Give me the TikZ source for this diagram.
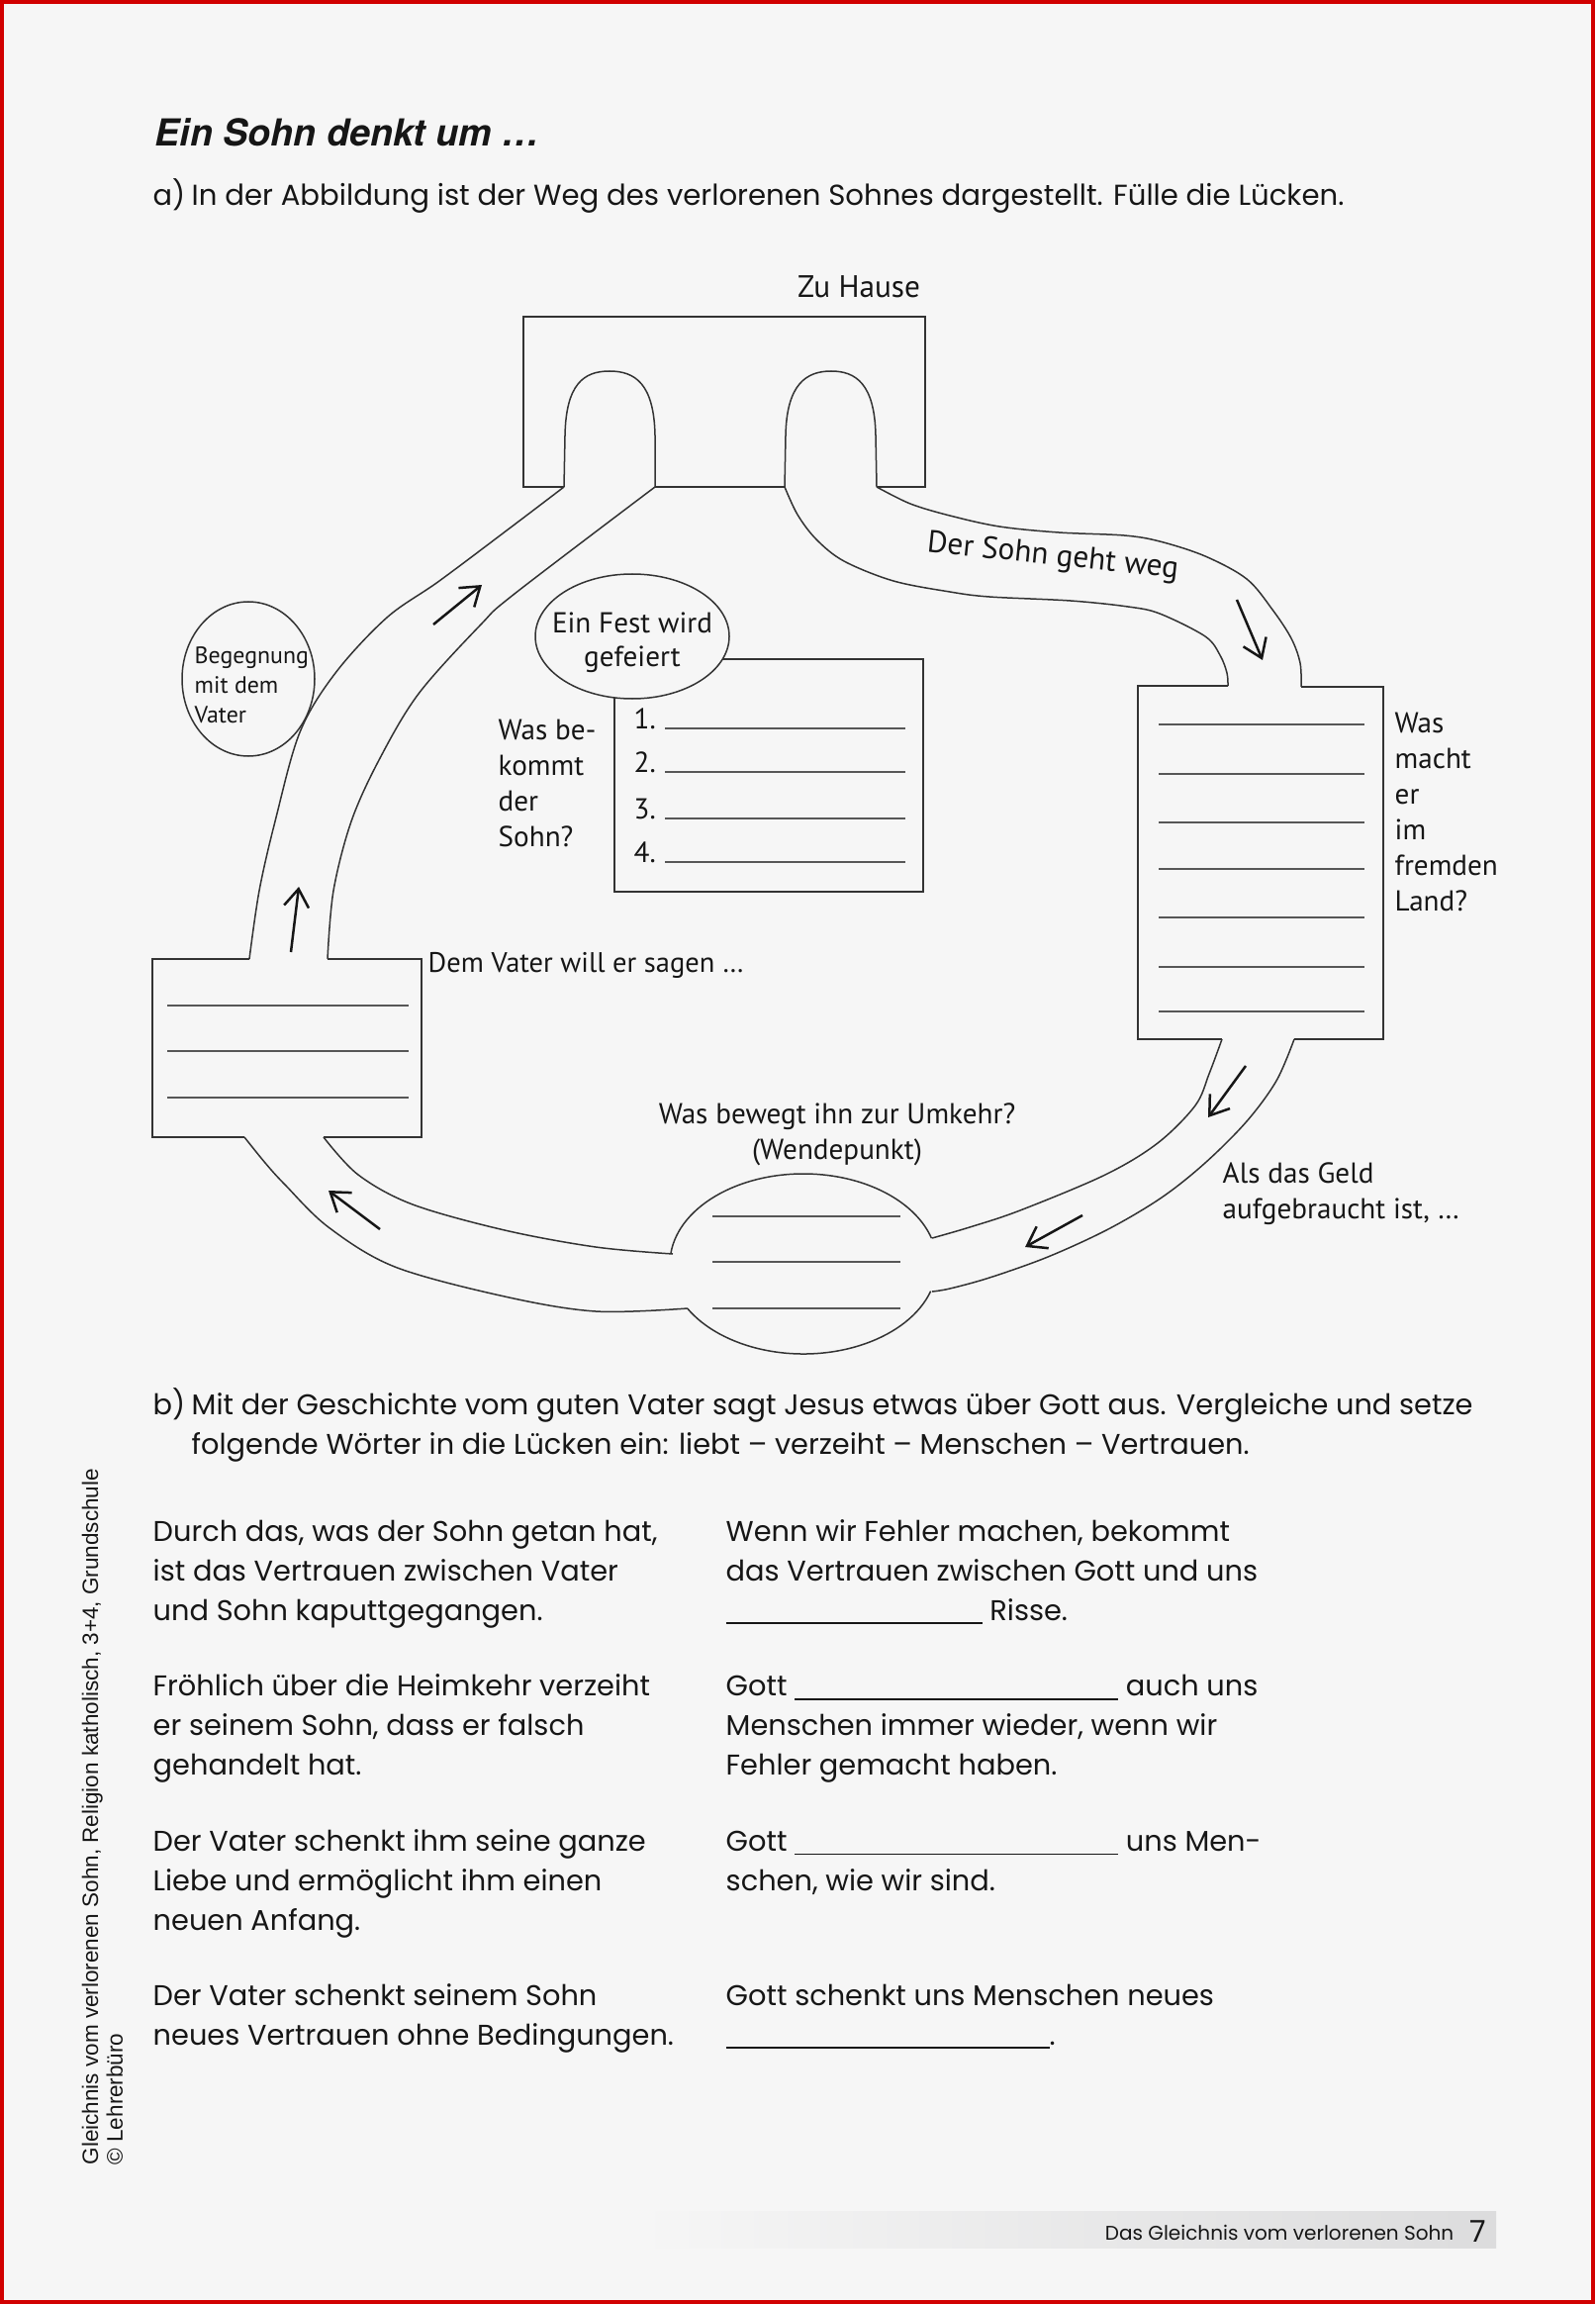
\documentclass[tikz,border=0pt]{standalone}
\usepackage{fontspec}
\setmainfont{Poppins}
\newfontfamily\titlefont{TeX Gyre Heros}
\newfontfamily\mapfont{PT Sans}
\newfontfamily\notefont{Liberation Sans}
\usetikzlibrary{arrows.meta,calc,positioning,shapes.geometric}
\definecolor{ink}{HTML}{161616}
\definecolor{wayink}{HTML}{333333}
\definecolor{blankink}{HTML}{575757}
\definecolor{paper}{HTML}{F6F6F6}
\definecolor{pagered}{HTML}{D10000}
\definecolor{barmid}{HTML}{E9EBEE}
\definecolor{barend}{HTML}{DCDCDD}
\tikzset{
  wayline/.style={draw=wayink,line width=0.15mm},
  blankline/.style={draw=blankink,line width=0.22mm},
  wayarrow/.style={-{Straight Barb[length=1.8mm,width=2.5mm]},line width=0.25mm,draw=ink},
  maplabel/.style={font=\mapfont\fontsize{8.3}{10.2}\selectfont,text=ink,inner sep=0pt,align=left},
  bodytext/.style={font=\fontsize{8.2}{11.34}\selectfont,text=ink,inner sep=0pt,align=left,anchor=base west},
  smoothway/.style={smooth,tension=0.55}
}
\newcommand{\gap}[1]{\rule[-1.2pt]{#1}{0.5pt}}
\begin{document}
\begin{tikzpicture}[x=0.1mm,y=-0.1mm]
  \path[use as bounding box,fill=paper] (0,0) rectangle (1612,2328);
  \draw[pagered,line width=0.4mm] (2,2) rectangle (1610,2326);

  % Kopf (base = letzte Zeile)
  \node[bodytext,font=\titlefont\bfseries\itshape\fontsize{10.7}{12}\selectfont] (title) at (156,148) {Ein Sohn denkt um …};
  \node[bodytext] (taska) at (154,208) {a)};
  \node[bodytext,font=\fontsize{8.3}{11.34}\selectfont] (taskatext) at (193,208) {In der Abbildung ist der Weg des verlorenen Sohnes dargestellt. Fülle die Lücken.};

  % Haus mit zwei Tueren
  \node[maplabel,anchor=base,font=\mapfont\fontsize{8.9}{10}\selectfont] (home) at (868,301) {Zu Hause};
  \draw[wayline] (570,492) -- (529,492) -- (529,320) -- (935,320) -- (935,492) -- (886,492);
  \draw[wayline] (662,492) -- (793,492);
  \draw[wayline] (570,492) -- (571,440) .. controls (572,388) and (590,375) .. (616,375)
    .. controls (642,375) and (661,388) .. (662,440) -- (662,492);
  \draw[wayline] (793,492) -- (794,440) .. controls (795,388) and (815,375) .. (840,375)
    .. controls (865,375) and (884,388) .. (885,440) -- (886,492);

  % Weg hinaus
  \draw[wayline] plot[smoothway] coordinates {(886,492) (920,509) (960,521) (1010,532) (1070,538) (1136,541) (1172,547) (1218,562) (1260,585) (1286,616) (1305,645) (1314,670) (1315,694)};
  \draw[wayline] plot[smoothway] coordinates {(793,492) (806,520) (825,545) (853,567) (903,587) (960,598) (1000,603) (1082,607) (1140,613) (1172,620) (1218,643) (1233,662) (1240,680) (1241,693)};
  \node[maplabel,rotate=-6,font=\mapfont\fontsize{8.9}{10}\selectfont] (weg) at (1064,563) {Der Sohn geht weg};

  % fremdes Land
  \draw[wayline] (1241,693) -- (1150,693) -- (1150,1050) -- (1235,1050);
  \draw[wayline] (1308,1050) -- (1398,1050) -- (1398,694) -- (1315,694);
  \foreach \y in {732,782,831,878,927,977,1022} \draw[blankline] (1171,\y) -- (1379,\y);
  \node[maplabel,anchor=base west] (land) at (1409,920) {Was\\macht\\er\\im\\fremden\\Land?};

  % Weg zum Wendepunkt
  \draw[wayline] plot[smoothway] coordinates {(1235,1050) (1222,1085) (1208,1117) (1170,1155) (1117,1187) (1031,1223) (980,1240) (942,1251)};
  \draw[wayline] plot[smoothway] coordinates {(1308,1050) (1290,1092) (1260,1133) (1218,1175) (1174,1210) (1120,1242) (1059,1270) (1000,1291) (960,1302) (942,1305)};
  \node[maplabel,anchor=base west] (geld) at (1235,1231) {Als das Geld\\aufgebraucht ist, …};

  % Wendepunkt
  \coordinate (wende) at (812,1277);
  \draw[wayline] (wende) ++(186.4:135 and 91) arc[start angle=186.4,end angle=343.5,x radius=135,y radius=91];
  \draw[wayline] (wende) ++(17.7:135 and 91) arc[start angle=17.7,end angle=150.3,x radius=135,y radius=91];
  \foreach \y in {1229,1275,1322} \draw[blankline] (720,\y) -- (910,\y);
  \node[maplabel,anchor=base,align=center] (umkehr) at (846,1171) {Was bewegt ihn zur Umkehr?\\(Wendepunkt)};

  % Rueckweg
  \draw[wayline] plot[smoothway] coordinates {(247,1149) (268,1175) (288,1197) (332,1240) (399,1280) (510,1310) (602,1325) (695,1322)};
  \draw[wayline] plot[smoothway] coordinates {(327,1149) (362,1187) (417,1217) (510,1243) (602,1260) (680,1267)};

  % Dem Vater will er sagen
  \draw[wayline] (252,969) -- (154,969) -- (154,1149) -- (247,1149);
  \draw[wayline] (327,1149) -- (426,1149) -- (426,969) -- (331,969);
  \foreach \y in {1016,1062,1109} \draw[blankline] (169,\y) -- (413,\y);
  \node[maplabel,anchor=base west,font=\mapfont\fontsize{8.1}{10}\selectfont] (sagen) at (432,982) {Dem Vater will er sagen …};

  % Heimweg
  \draw[wayline] plot[smoothway] coordinates {(570,492) (520,530) (444,587) (391,624) (339,680) (303,740) (278,830) (262,900) (252,969)};
  \draw[wayline] plot[smoothway] coordinates {(662,492) (520,600) (486,631) (423,701) (383,768) (355,830) (337,900) (331,969)};
  \draw[wayline] (251,686) ellipse[x radius=67,y radius=78];
  \node[maplabel,anchor=base west,font=\mapfont\fontsize{6.8}{8.4}\selectfont] (begegnung) at (196,730) {Begegnung\\mit dem\\Vater};

  % Fest
  \draw[wayline] (621,666) rectangle (933,901);
  \draw[wayline,fill=paper] (639,643) ellipse[x radius=98,y radius=63];
  \node[maplabel,anchor=base,align=center,font=\mapfont\fontsize{8.3}{9.6}\selectfont] (fest) at (639,673) {Ein Fest wird\\gefeiert};
  \foreach \n/\y in {1/736,2/780,3/827,4/871} {
    \node[maplabel,anchor=base west] (gabe\n) at (640,\y) {\n.};
    \draw[blankline] (672,\y) -- (915,\y);
  }
  \node[maplabel,anchor=base west] (bekommt) at (503,855) {Was be-\\kommt\\der\\Sohn?};

  % Pfeile
  \draw[wayarrow] (438,631) -- (487,591);
  \draw[wayarrow] (294,962) -- (302,896);
  \draw[wayarrow] (1250,606) -- (1276,667);
  \draw[wayarrow] (1259,1077) -- (1221,1129);
  \draw[wayarrow] (1094,1228) -- (1036,1260);
  \draw[wayarrow] (384,1242) -- (332,1203);

  % Teil b
  \node[bodytext] (taskb) at (154,1429) {b)};
  \node[bodytext] (taskbtext) at (193,1469) {Mit der Geschichte vom guten Vater sagt Jesus etwas über Gott aus. Vergleiche und setze\\folgende Wörter in die Lücken ein: liebt – verzeiht – Menschen – Vertrauen.};

  \node[bodytext] (vater1) at (154,1637) {Durch das, was der Sohn getan hat,\\ist das Vertrauen zwischen Vater\\und Sohn kaputtgegangen.};
  \node[bodytext] (vater2) at (154,1793) {Fröhlich über die Heimkehr verzeiht\\er seinem Sohn, dass er falsch\\gehandelt hat.};
  \node[bodytext] (vater3) at (154,1950) {Der Vater schenkt ihm seine ganze\\Liebe und ermöglicht ihm einen\\neuen Anfang.};
  \node[bodytext] (vater4) at (154,2066) {Der Vater schenkt seinem Sohn\\neues Vertrauen ohne Bedingungen.};

  \node[bodytext] (gott1) at (733,1637) {Wenn wir Fehler machen, bekommt\\das Vertrauen zwischen Gott und uns\\\gap{25.9mm} Risse.};
  \node[bodytext] (gott2) at (733,1793) {Gott \gap{32.7mm} auch uns\\Menschen immer wieder, wenn wir\\Fehler gemacht haben.};
  \node[bodytext] (gott3) at (733,1910) {Gott \gap{32.7mm} uns Men-\\schen, wie wir sind.};
  \node[bodytext] (gott4) at (733,2066) {Gott schenkt uns Menschen neues\\\gap{32.7mm}.};

  % Rand und Fuss
  \node[font=\notefont\fontsize{6.4}{7.1}\selectfont,text=ink,rotate=90,anchor=north west,align=left,inner sep=0pt] (credit) at (82,2188) {Gleichnis vom verlorenen Sohn, Religion katholisch, 3+4, Grundschule\\© Lehrerbüro};
  \shade[left color=paper,middle color=barmid,right color=barend] (645,2234) rectangle (1512,2271);
  \node[font=\fontsize{5.7}{7}\selectfont,text=ink,anchor=base east,inner sep=0pt] (pagetitle) at (1470,2263) {Das Gleichnis vom verlorenen Sohn};
  \node[font=\fontsize{8.6}{9}\selectfont,text=ink,anchor=base,inner sep=0pt] (pagenum) at (1494,2265) {7};
\end{tikzpicture}
\end{document}
